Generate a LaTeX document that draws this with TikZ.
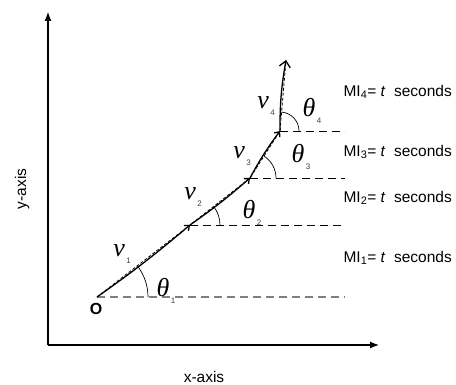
\documentclass[tikz,border=0pt]{standalone}
\usepackage{fontspec}
\setmainfont{Liberation Sans}
\newfontfamily\timesfont{Liberation Serif}
\usetikzlibrary{arrows.meta,positioning}
\newcommand{\sym}[2]{{\timesfont\itshape #1}\kern1.5pt\raisebox{-6.5pt}{\fontsize{8}{8}\selectfont\color{darkgray}#2}}

\begin{document}
\begin{tikzpicture}[x=1pt,y=1pt,font=\fontsize{15.5}{18}\selectfont,
  axis/.style={-{Latex[length=9pt,width=7pt]},line width=1.2pt},
  level/.style={dash pattern=on 8pt off 5pt,line width=0.8pt},
  seg/.style={-{Straight Barb[length=4pt,width=7pt]},line width=1.3pt},
  chord/.style={dash pattern=on 3pt off 2pt,line width=0.8pt},
  ang/.style={line width=0.7pt},
  lbl/.style={font=\fontsize{26}{28}\selectfont}]
\useasboundingbox (0,0) rectangle (456,385);
\coordinate (o) at (48,40);
\coordinate (ytop) at (48,373);
\coordinate (xend) at (379,40);
\draw[axis] (o) -- (ytop);
\draw[axis] (o) -- (xend);
\node[rotate=90] (ylab) at (22,196) {y-axis};
\node (xlab) at (204,8) {x-axis};
\coordinate (p0) at (97,88);
\coordinate (p1) at (190,160);
\coordinate (p2) at (250,207);
\coordinate (p3) at (280,254);
\coordinate (tip) at (286,325);
\coordinate (e0) at (345,88);
\coordinate (e1) at (345,160);
\coordinate (e2) at (345,207);
\coordinate (e3) at (345,254);
\draw[level,gray,line width=1.1pt] (p0) -- (e0);
\draw[level] (p1) -- (e1);
\draw[level] (p2) -- (e2);
\draw[level] (p3) -- (e3);
\draw[chord] (p0) -- (p1) -- (p2) -- (p3) -- (tip);
\draw[seg] (p0) to[bend right=2.5] (p1);
\draw[seg] (p1) to[bend right=3] (p2);
\draw[seg] (p2) to[bend left=4] (p3);
\draw[seg,-{Straight Barb[length=6pt,width=11pt]}] (p3) to[bend left=5] (tip);
\draw[ang] ([shift={(51,0)}]p0) arc[start angle=0,end angle=37.7,radius=51];
\draw[ang] ([shift={(30,0)}]p1) arc[start angle=0,end angle=38.1,radius=30];
\draw[ang] ([shift={(26,0)}]p2) arc[start angle=0,end angle=57.4,radius=26];
\draw[ang] ([shift={(19,0)}]p3) arc[start angle=0,end angle=86,radius=19];
\node[font=\fontsize{16}{18}\selectfont\bfseries] (orig) at (96,76) {O};
\node[lbl] (v1) at (122,131) {\sym{v}{1}};
\node[lbl] (t1) at (166,94) {\sym{θ}{1}};
\node[lbl] (v2) at (193,188) {\sym{v}{2}};
\node[lbl] (t2) at (252,172) {\sym{θ}{2}};
\node[lbl] (v3) at (242,229) {\sym{v}{3}};
\node[lbl] (t3) at (301,228) {\sym{θ}{3}};
\node[lbl] (v4) at (266,279) {\sym{v}{4}};
\node[lbl] (t4) at (312,274) {\sym{θ}{4}};
\node[anchor=west] (mi4) at (340,293) {MI\textsubscript{4}= \textit{t}\ \ seconds};
\node[anchor=west] (mi3) at (340,233) {MI\textsubscript{3}= \textit{t}\ \ seconds};
\node[anchor=west] (mi2) at (340,187) {MI\textsubscript{2}= \textit{t}\ \ seconds};
\node[anchor=west] (mi1) at (340,127) {MI\textsubscript{1}= \textit{t}\ \ seconds};
\end{tikzpicture}
\end{document}
